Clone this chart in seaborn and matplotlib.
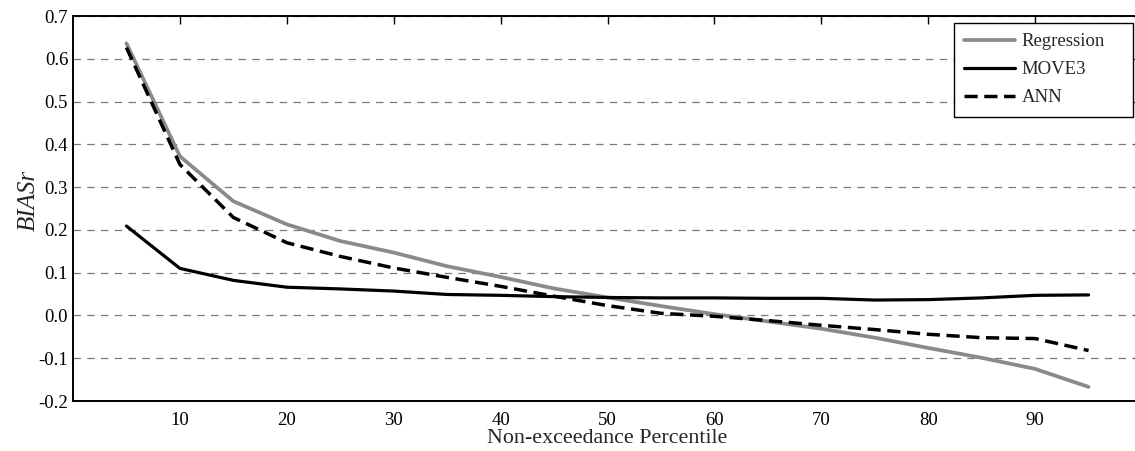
import matplotlib
matplotlib.use("Agg")
import matplotlib.pyplot as plt
import seaborn as sns
import pandas as pd

percentiles = [5, 10, 15, 20, 25, 30, 35, 40, 45, 50, 55, 60, 65, 70, 75, 80, 85, 90, 95]
regression = [0.636, 0.372, 0.267, 0.213, 0.174, 0.147, 0.115, 0.090, 0.063, 0.042, 0.022, 0.003,
              -0.014, -0.031, -0.052, -0.076, -0.099, -0.125, -0.167]
move3 = [0.209, 0.110, 0.082, 0.066, 0.062, 0.057, 0.049, 0.047, 0.044, 0.042, 0.041, 0.041,
         0.040, 0.040, 0.036, 0.037, 0.041, 0.047, 0.048]
ann = [0.626, 0.353, 0.229, 0.170, 0.138, 0.111, 0.089, 0.068, 0.045, 0.023, 0.005, -0.002,
       -0.012, -0.023, -0.033, -0.044, -0.052, -0.054, -0.082]
series_names = ["Regression", "MOVE3", "ANN"]
y_ticks = [-0.2, -0.1, 0.0, 0.1, 0.2, 0.3, 0.4, 0.5, 0.6, 0.7]
x_ticks = [10, 20, 30, 40, 50, 60, 70, 80, 90]

sns.set_theme(style="white")
plt.rcParams["font.family"] = ["Liberation Serif", "DejaVu Serif"]
plt.rcParams["axes.unicode_minus"] = False

df = pd.DataFrame({
    "Percentile": percentiles * 3,
    "BIAS": regression + move3 + ann,
    "Model": [series_names[0]] * len(percentiles) + [series_names[1]] * len(percentiles)
             + [series_names[2]] * len(percentiles),
})

fig = plt.figure(figsize=(11.35, 4.51), dpi=100)
ax = fig.add_axes([73 / 1135, (451 - 401) / 451, (1142 - 73) / 1135, (401 - 16) / 451])

styles = {
    "Regression": dict(color="#8a8a8a", lw=2.7, ls="-"),
    "MOVE3": dict(color="black", lw=2.3, ls="-"),
    "ANN": dict(color="black", lw=2.5, ls=(0, (3.8, 1.9))),
}
for name in series_names:
    sub = df[df["Model"] == name]
    st = styles[name]
    sns.lineplot(data=sub, x="Percentile", y="BIAS", ax=ax, color=st["color"],
                 linewidth=st["lw"], linestyle=st["ls"], label=name)

ax.set_xlim(0, 100)
ax.set_ylim(-0.2, 0.7)
ax.set_xticks(x_ticks)
ax.set_xticklabels([str(t) for t in x_ticks])
ax.set_yticks(y_ticks)
ax.set_yticklabels([f"{t:.1f}" for t in y_ticks])
ax.yaxis.grid(True, color="#7a7a7a", linestyle=(0, (6, 5)), linewidth=0.9)
ax.xaxis.grid(False)
ax.tick_params(axis="both", direction="in", length=6, width=1, labelsize=13.5,
               top=True, right=True, colors="black")
ax.tick_params(axis="x", pad=8)
for sp in ax.spines.values():
    sp.set_color("black")
    sp.set_linewidth(1.4)

ax.set_xlabel("Non-exceedance Percentile", fontsize=15.8, labelpad=0)
ax.set_ylabel("BIASr", fontsize=18, style="italic")
ax.yaxis.set_label_coords((40 - 73) / 1069, (401 - 200) / 385)

leg = ax.legend(loc="upper left",
                bbox_to_anchor=(954 / 1135, (451 - 115) / 451, (1133 - 954) / 1135, 92 / 451),
                bbox_transform=fig.transFigure, mode="expand", fontsize=13.5, frameon=True,
                fancybox=False, edgecolor="black", framealpha=1, borderaxespad=0,
                handlelength=2.7, labelspacing=0.58, handletextpad=0.37, borderpad=0.55)
leg.get_frame().set_linewidth(1.0)

fig.savefig("out.png", dpi=100)
